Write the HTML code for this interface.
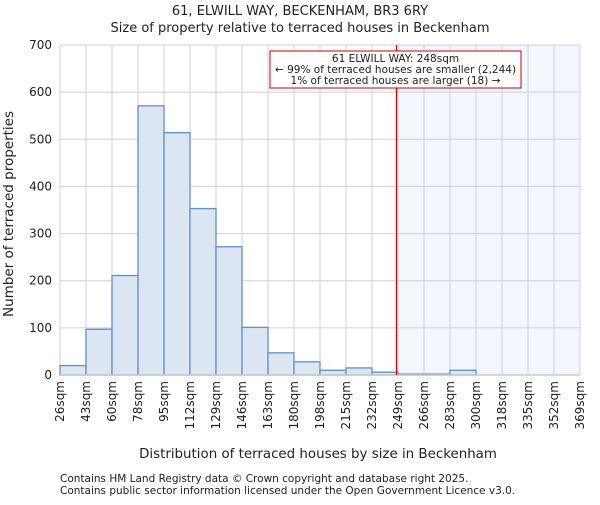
<!DOCTYPE html>
<html><head><meta charset="utf-8"><style>
body{margin:0;background:#fff;font-family:"Liberation Sans","DejaVu Sans",sans-serif;}
svg text{font-family:"DejaVu Sans","Liberation Sans",sans-serif;fill:#222;}
</style></head><body>
<svg id="c" width="600" height="500" viewBox="0 0 600 500">
<text x="300" y="15" text-anchor="middle" font-size="13">61, ELWILL WAY, BECKENHAM, BR3 6RY</text>
<text x="300" y="32" text-anchor="middle" font-size="13">Size of property relative to terraced houses in Beckenham</text>
<g id="plot"></g>
<text x="318" y="458" text-anchor="middle" font-size="13.4">Distribution of terraced houses by size in Beckenham</text>
<text transform="translate(13,214) rotate(-90)" text-anchor="middle" font-size="13.5">Number of terraced properties</text>
<text x="60" y="482" font-size="10.5" fill="#444">Contains HM Land Registry data © Crown copyright and database right 2025.</text>
<text x="60" y="494" font-size="10.5" fill="#444">Contains public sector information licensed under the Open Government Licence v3.0.</text>
</svg>
<script>
const categories=["26sqm","43sqm","60sqm","78sqm","95sqm","112sqm","129sqm","146sqm","163sqm","180sqm","198sqm","215sqm","232sqm","249sqm","266sqm","283sqm","300sqm","318sqm","335sqm","352sqm","369sqm"];
const counts=[20,97,211,571,514,353,272,101,47,28,10,15,6,2,2,10,0,0,0,0];
const yTicks=[0,100,200,300,400,500,600,700];
const markerBin=13;
const markerFrac=-0.06;
const NS="http://www.w3.org/2000/svg";
const L=60,R=580,T=45,B=375,yMax=700;
const bw=(R-L)/counts.length;
const xs=i=>L+i*bw;
const ys=v=>B-(v/yMax)*(B-T);
const g=document.getElementById('plot');
function mk(t,a,p){const e=document.createElementNS(NS,t);for(const k in a)e.setAttribute(k,a[k]);(p||g).appendChild(e);return e;}
const mx=xs(markerBin+markerFrac);
let e;
e=mk('rect',{x:mx,y:T,width:R-mx,height:B-T,fill:'#f3f6fd'});


for(let i=0;i<=counts.length;i++){e=mk('line',{x1:xs(i),x2:xs(i),y1:T,y2:B,stroke:'#d0d0d0','stroke-width':1});

}
yTicks.forEach(v=>{e=mk('line',{x1:L,x2:R,y1:ys(v),y2:ys(v),stroke:'#d0d0d0','stroke-width':1});


e=mk('text',{x:L-8,y:ys(v)+4,'text-anchor':'end','font-size':12});e.textContent=v;

});
counts.forEach((v,i)=>{if(v<=0)return;e=mk('rect',{x:xs(i),y:ys(v),width:bw,height:B-ys(v),fill:'#dce6f3',stroke:'#5b8fd6','stroke-width':1.3});

});
categories.forEach((c,i)=>{e=mk('text',{transform:`translate(${xs(i)+4},${B+6}) rotate(-90)`,'text-anchor':'end','font-size':12});e.textContent=c;

});
e=mk('line',{x1:L,x2:R,y1:B,y2:B,stroke:'#ccc','stroke-width':1.5});


e=mk('line',{x1:mx,x2:mx,y1:T,y2:B,stroke:'#d00','stroke-width':1.2});


const ann=mk('g',{});


mk('rect',{x:270,y:51,width:251,height:37,fill:'#fff',stroke:'#c00','stroke-width':1},ann);
["61 ELWILL WAY: 248sqm","← 99% of terraced houses are smaller (2,244)","1% of terraced houses are larger (18) →"].forEach((t,i)=>{const x=mk('text',{x:395.5,y:62+i*11,'text-anchor':'middle','font-size':10.5},ann);x.textContent=t;});
</script>
</body></html>
